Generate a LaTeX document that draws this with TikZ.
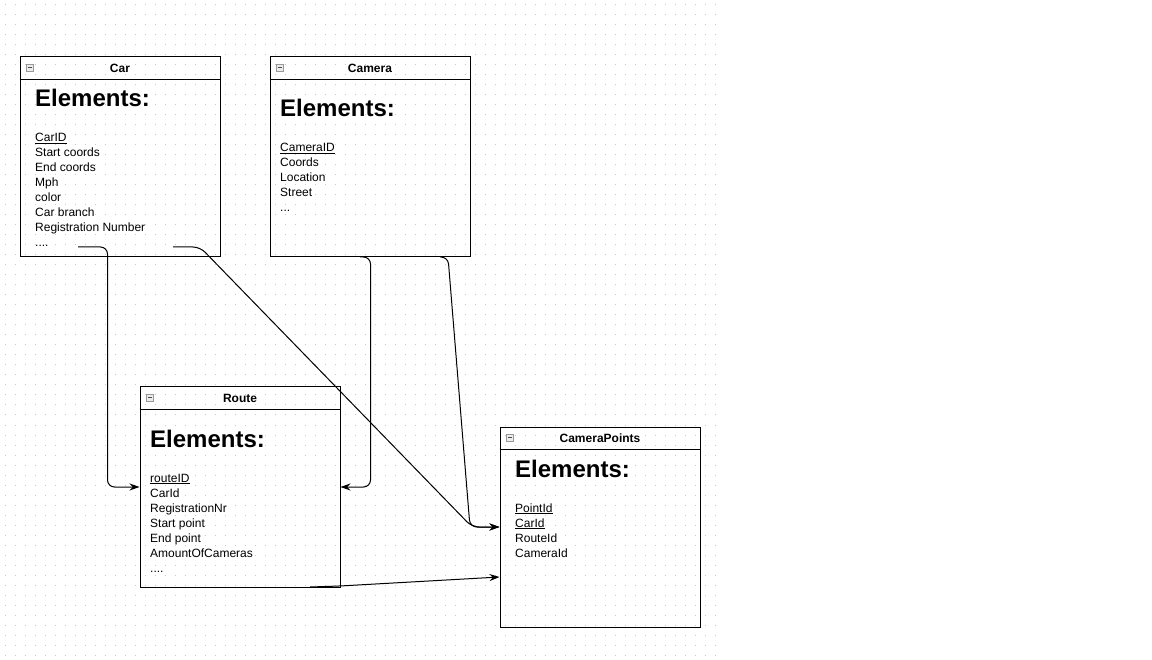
\documentclass[tikz,border=0pt]{standalone}
\usepackage{fontspec}
\setmainfont{Liberation Sans}
\usetikzlibrary{arrows.meta}

\newcommand\dotsfour{....}
\newcommand\dotsthree{...}

\tikzset{
  entity/.style={rectangle, draw, line width=1pt, minimum width=200pt, minimum height=200pt, inner sep=0pt},
  title/.style={font=\bfseries\fontsize{12}{14}\selectfont, inner sep=0pt},
  heading/.style={font=\bfseries\fontsize{24}{28}\selectfont, anchor=base west, inner sep=0pt},
  item/.style={font=\fontsize{12}{15}\selectfont, anchor=base west, inner sep=0pt},
  icon/.style={rectangle, draw=gray!80, fill=gray!15, minimum size=7pt, inner sep=0pt,
    path picture={\draw[gray!60!black, line width=0.8pt] ([xshift=1.5pt]path picture bounding box.west) -- ([xshift=-1.5pt]path picture bounding box.east);}},
  conn/.style={draw=black, line width=1pt, rounded corners=7pt, -{Stealth[length=10pt, width=7pt]}},
  griddot/.style={draw=black!22, line width=1pt, dash pattern=on 1pt off 9pt}
}

\begin{document}
\begin{tikzpicture}[x=1pt, y=-1pt]
    \useasboundingbox (0,0) rectangle (1152,660);

    % dotted grid
    \foreach \y in {5,15,...,655}
        \draw[griddot] (4.5,\y) -- (716,\y);

    % tables
    \node (car)    [entity] at (120,157) {};
    \node (camera) [entity] at (370,157) {};
    \node (route)  [entity] at (240,487) {};
    \node (campts) [entity] at (600,527) {};

    \foreach \n/\t in {car/Car, camera/Camera, route/Route, campts/CameraPoints} {
        \draw[line width=1pt] ([yshift=-23pt]\n.north west) -- ([yshift=-23pt]\n.north east);
        \node[title] at ([yshift=-12pt]\n.north) {\t};
        \node[icon] at ([xshift=10pt, yshift=-11pt]\n.north west) {};
    }

    % Car
    \node[heading] at (35,107) {Elements:};
    \foreach \t [count=\i from 0] in {\underline{CarID}, Start coords, End coords, Mph, color, Car branch, Registration Number, \dotsfour}
        \node[item] at (35,{142+15*\i}) {\t};

    % Camera
    \node[heading] at (280,117) {Elements:};
    \foreach \t [count=\i from 0] in {\underline{CameraID}, Coords, Location, Street, \dotsthree}
        \node[item] at (280,{152+15*\i}) {\t};

    % Route
    \node[heading] at (150,447) {Elements:};
    \foreach \t [count=\i from 0] in {\underline{routeID}, CarId, RegistrationNr, Start point, End point, AmountOfCameras, \dotsfour}
        \node[item] at (150,{482+15*\i}) {\t};

    % CameraPoints
    \node[heading] at (515,477) {Elements:};
    \foreach \t [count=\i from 0] in {\underline{PointId}, \underline{CarId}, RouteId, CameraId}
        \node[item] at (515,{512+15*\i}) {\t};

    % connector ends
    \coordinate (carA)   at (78,247);
    \coordinate (carB)   at (173,247);
    \coordinate (camA)   at (360,257);
    \coordinate (camB)   at (440,257);
    \coordinate (routeA) at (310,587);

    \draw[conn] (carA) -| ([xshift=-32pt]route.west) -- (route.west);
    \draw[conn] (carB) -- (200,247) -- (472,527) -- (campts.west);
    \draw[conn] (camA) -| ([xshift=30pt]route.east) -- (route.east);
    \draw[conn] (camB) -- (448,257) -- (470,527) -- (campts.west);
    \draw[conn] (routeA) -- (340,586) -- ([yshift=-50pt]campts.west);
\end{tikzpicture}
\end{document}
